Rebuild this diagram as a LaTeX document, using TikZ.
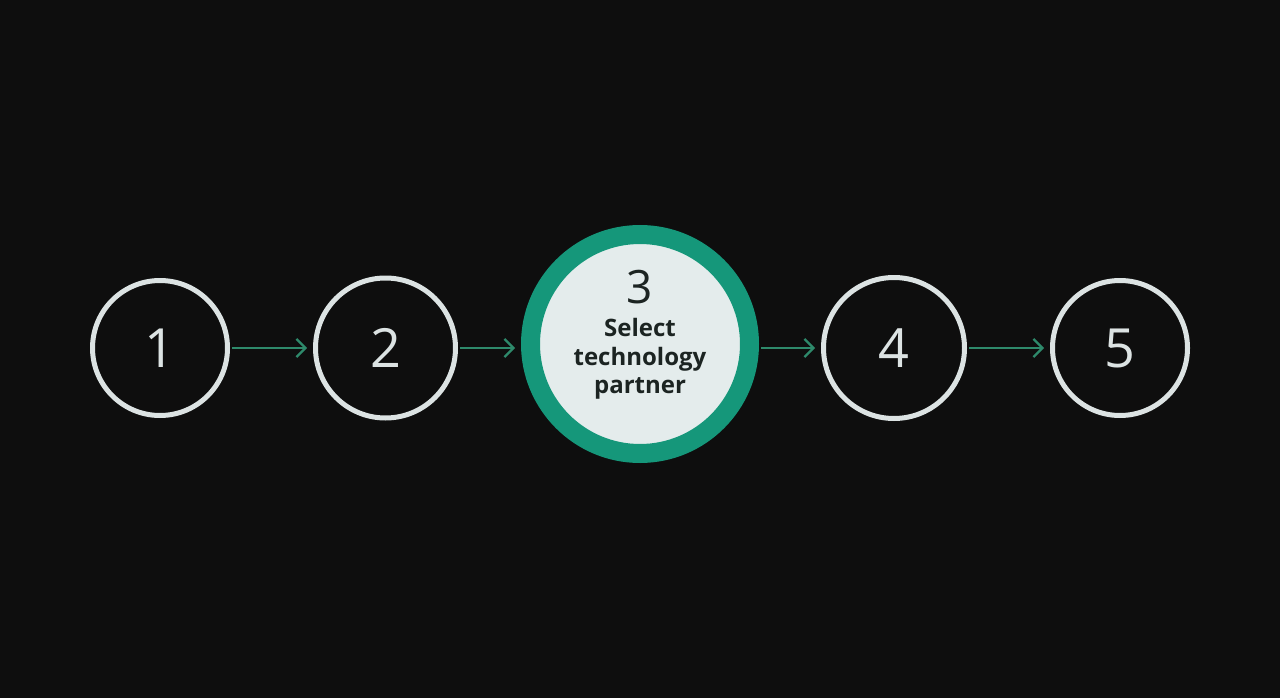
\documentclass[tikz,border=0pt]{standalone}
\usepackage{fontspec}
\setmainfont{Open Sans}
\usepackage{tikz}
\usetikzlibrary{arrows.meta}

\definecolor{bgdark}{HTML}{0E0E0E}
\definecolor{ringwhite}{HTML}{DCE3E3}
\definecolor{stepgreen}{HTML}{15977A}
\definecolor{arrowgreen}{HTML}{2E8A6B}
\definecolor{innerlight}{HTML}{E4ECEC}
\definecolor{textdark}{HTML}{1C2422}

\tikzset{
  stepcircle/.style={circle,draw=ringwhite,line width=5pt,minimum size=135pt,inner sep=0pt,
    text=ringwhite,font=\fontsize{54}{54}\selectfont},
  activecircle/.style={circle,draw=stepgreen,fill=innerlight,line width=19pt,minimum size=219pt,inner sep=0pt,
    text=textdark,align=center},
  flow/.style={draw=arrowgreen,line width=2.2pt,-{Straight Barb[length=9pt,width=18pt,line width=2.2pt]},shorten >=6pt,shorten <=2pt}
}

\begin{document}
\begin{tikzpicture}[x=1pt,y=-1pt]
			\fill[bgdark] (0,0) rectangle (1280,698);
			\useasboundingbox (0,0) rectangle (1280,698);

			\node[stepcircle] (c1) at (160,348) {1};
			\node[stepcircle,minimum size=140pt] (c2) at (385.5,348) {2};
			\node[activecircle] (c3) at (640,344) {};
			\node[stepcircle,minimum size=141pt] (c4) at (894,348) {4};
			\node[stepcircle] (c5) at (1120,348) {5};

			% text of the active step
			\node[text=textdark,font=\fontsize{46}{46}\selectfont] (n3) at (640,287) {3};
			\node[text=textdark,align=center,font=\fontsize{24}{28.5}\selectfont\bfseries] (t3) at (640,359) {Select\\technology\\partner};

			\draw[flow] (c1.east) -- (c1.east -| c2.west);
			\draw[flow] (c2.east) -- (c2.east -| c3.west);
			\draw[flow] (c3.east |- c4.west) -- (c4.west);
			\draw[flow] (c4.east) -- (c5.west);
		\end{tikzpicture}
\end{document}
